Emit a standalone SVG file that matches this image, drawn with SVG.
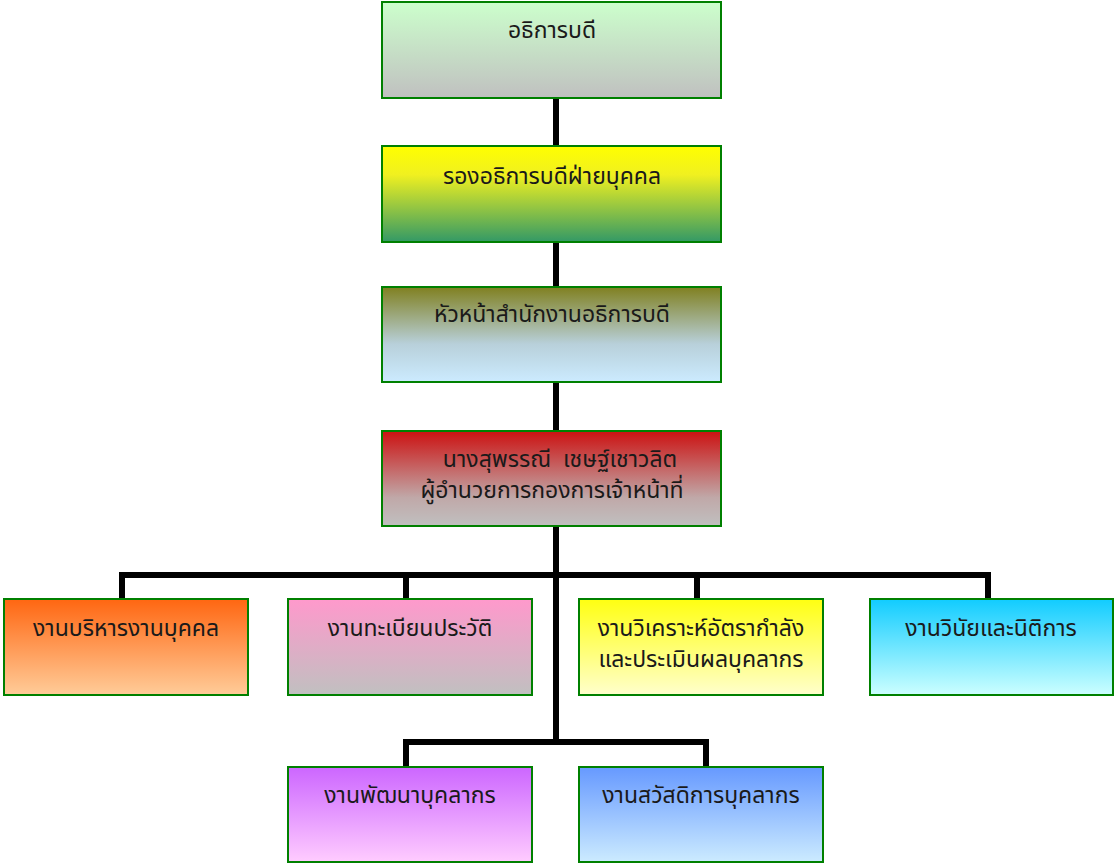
<svg xmlns="http://www.w3.org/2000/svg" width="1114" height="865" viewBox="0 0 1114 865">
<style>
.box{stroke:#008000;stroke-width:2}
.t{font-family:"Noto Sans Thai","Noto Sans","DejaVu Sans",sans-serif;font-size:23px;fill:#1a1a1a;text-anchor:middle;white-space:pre}
.c{fill:none;stroke:#000;stroke-width:6;stroke-linejoin:miter}
</style>
<defs>
<linearGradient id="g1" x1="0" y1="0" x2="0" y2="1"><stop offset="0" stop-color="#CCFFCC"/><stop offset="1" stop-color="#C0C0C0"/></linearGradient>
<linearGradient id="g2" x1="0" y1="0" x2="0" y2="1"><stop offset="0" stop-color="#FFFF00"/><stop offset="0.3" stop-color="#F0F020"/><stop offset="1" stop-color="#339966"/></linearGradient>
<linearGradient id="g3" x1="0" y1="0" x2="0" y2="1"><stop offset="0" stop-color="#808020"/><stop offset="0.6" stop-color="#B8D0DA"/><stop offset="1" stop-color="#CCEBFF"/></linearGradient>
<linearGradient id="g4" x1="0" y1="0" x2="0" y2="1"><stop offset="0" stop-color="#CC1111"/><stop offset="0.7" stop-color="#C0A8A8"/><stop offset="1" stop-color="#C0C0C0"/></linearGradient>
<linearGradient id="gA" x1="0" y1="0" x2="0" y2="1"><stop offset="0" stop-color="#FF6611"/><stop offset="1" stop-color="#FFCC99"/></linearGradient>
<linearGradient id="gB" x1="0" y1="0" x2="0" y2="1"><stop offset="0" stop-color="#FF99CC"/><stop offset="1" stop-color="#C0C0C0"/></linearGradient>
<linearGradient id="gC" x1="0" y1="0" x2="0" y2="1"><stop offset="0" stop-color="#FFFF11"/><stop offset="1" stop-color="#FFFFCC"/></linearGradient>
<linearGradient id="gD" x1="0" y1="0" x2="0" y2="1"><stop offset="0" stop-color="#11CCFF"/><stop offset="1" stop-color="#CCFFFF"/></linearGradient>
<linearGradient id="gE" x1="0" y1="0" x2="0" y2="1"><stop offset="0" stop-color="#CC66FF"/><stop offset="1" stop-color="#FFCCFF"/></linearGradient>
<linearGradient id="gF" x1="0" y1="0" x2="0" y2="1"><stop offset="0" stop-color="#6699FF"/><stop offset="1" stop-color="#CCEBFF"/></linearGradient>
</defs>
<rect width="1114" height="865" fill="#fff"/>
<g id="connectors">
<path class="c" d="M556 98V146M556 242V287M556 382V431M556 526V741"/>
<path class="c" d="M122 599V575H988V599M406 575V599M697 575V599"/>
<path class="c" d="M406 767V742H706V767"/>
</g>
<g id="n1"><rect class="box" x="382" y="2" width="339" height="96" fill="url(#g1)"/><text class="t" x="552" y="38">อธิการบดี</text></g>
<g id="n2"><rect class="box" x="382" y="146" width="339" height="96" fill="url(#g2)"/><text class="t" x="552" y="184">รองอธิการบดีฝ่ายบุคคล</text></g>
<g id="n3"><rect class="box" x="382" y="287" width="339" height="95" fill="url(#g3)"/><text class="t" x="552" y="322">หัวหน้าสำนักงานอธิการบดี</text></g>
<g id="n4"><rect class="box" x="382" y="431" width="339" height="95" fill="url(#g4)"/><text class="t" x="560" y="467" xml:space="preserve">นางสุพรรณี  เชษฐ์เชาวลิต</text><text class="t" x="552" y="498">ผู้อำนวยการกองการเจ้าหน้าที่</text></g>
<g id="nA"><rect class="box" x="4" y="599" width="244" height="96" fill="url(#gA)"/><text class="t" x="126" y="636">งานบริหารงานบุคคล</text></g>
<g id="nB"><rect class="box" x="288" y="599" width="244" height="96" fill="url(#gB)"/><text class="t" x="410" y="636">งานทะเบียนประวัติ</text></g>
<g id="nC"><rect class="box" x="579" y="599" width="244" height="96" fill="url(#gC)"/><text class="t" x="701" y="636">งานวิเคราะห์อัตรากำลัง</text><text class="t" x="701" y="667">และประเมินผลบุคลากร</text></g>
<g id="nD"><rect class="box" x="870" y="599" width="243" height="96" fill="url(#gD)"/><text class="t" x="991" y="636">งานวินัยและนิติการ</text></g>
<g id="nE"><rect class="box" x="288" y="767" width="244" height="95" fill="url(#gE)"/><text class="t" x="410" y="803">งานพัฒนาบุคลากร</text></g>
<g id="nF"><rect class="box" x="579" y="767" width="244" height="95" fill="url(#gF)"/><text class="t" x="701" y="803">งานสวัสดิการบุคลากร</text></g>
</svg>
